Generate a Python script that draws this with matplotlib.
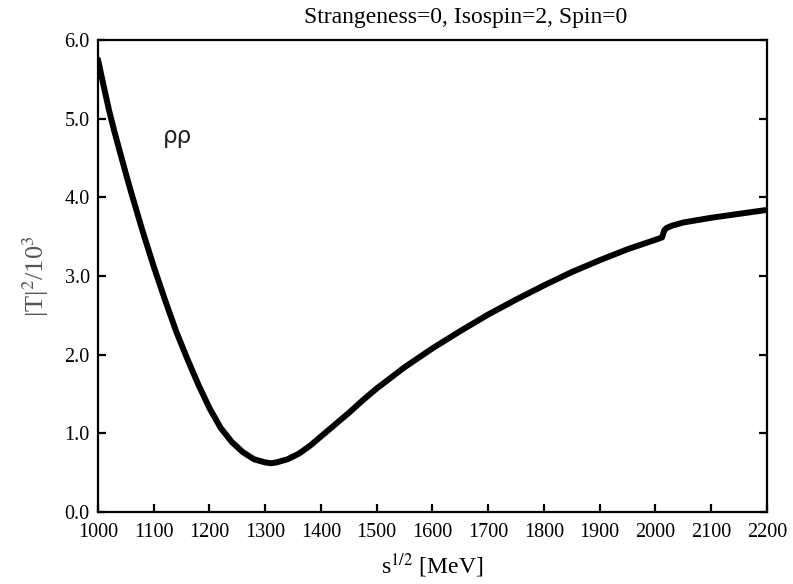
import numpy as np
import matplotlib.pyplot as plt

# |T|^2 / 10^3
sqrt_s = [1000, 1010, 1020, 1030, 1040, 1050, 1060, 1080, 1100, 1120,
          1140, 1160, 1180, 1200, 1220, 1240, 1260, 1280, 1300, 1310,
          1320, 1340, 1360, 1380, 1400, 1425, 1450, 1475, 1500, 1550,
          1600, 1650, 1700, 1750, 1800, 1850, 1900, 1950, 2000, 2012,
          2016, 2020, 2030, 2050, 2100, 2150, 2200]
t2 = [5.75, 5.42, 5.10, 4.82, 4.56, 4.30, 4.05, 3.57, 3.12, 2.70,
      2.30, 1.95, 1.62, 1.32, 1.07, 0.89, 0.76, 0.67, 0.63, 0.62,
      0.63, 0.67, 0.74, 0.84, 0.96, 1.11, 1.26, 1.42, 1.57, 1.84,
      2.08, 2.30, 2.51, 2.70, 2.88, 3.05, 3.20, 3.34, 3.46, 3.49,
      3.58, 3.61, 3.64, 3.68, 3.74, 3.79, 3.84]

xticks = np.arange(1000, 2201, 100)
yticks = np.arange(0, 6.01, 1.0)

plt.rcParams['font.family'] = ['Liberation Serif', 'DejaVu Serif']
plt.rcParams['mathtext.fontset'] = 'stix'

fig = plt.figure(figsize=(7.93, 5.84), dpi=100)
ax = fig.add_axes([0.1236, 0.1233, 0.8434, 0.8082])

ax.plot(sqrt_s, t2, color='black', lw=4.3, solid_capstyle='round',
        solid_joinstyle='round')

ax.set_xlim(1000, 2200)
ax.set_ylim(0, 6)
ax.set_xticks(xticks)
ax.set_yticks(yticks)
ax.set_yticklabels([f"{v:.1f}" for v in yticks])

for s in ax.spines.values():
    s.set_linewidth(1.6)

ax.tick_params(axis='x', direction='in', length=6, width=1.6, labelsize=14.5, pad=8, top=False)
ax.tick_params(axis='y', direction='in', length=6, width=1.6, labelsize=14.5, pad=6, right=True)

ax.set_xlabel(r"s$^{1/2}$ [MeV]", fontsize=17, labelpad=7)
ax.set_ylabel(r"|T|$^{2}$/10$^{3}$", fontsize=19, color='#555555', labelpad=10)

ax.text(1143, 4.77, "ρρ", family='DejaVu Sans', fontsize=16.5, color='#222222',
        ha='center', va='center')

fig.text(466 / 793, 1 - 18 / 584, "Strangeness=0, Isospin=2, Spin=0",
         ha='center', va='center', fontsize=17)

fig.savefig("out.png", dpi=100)
